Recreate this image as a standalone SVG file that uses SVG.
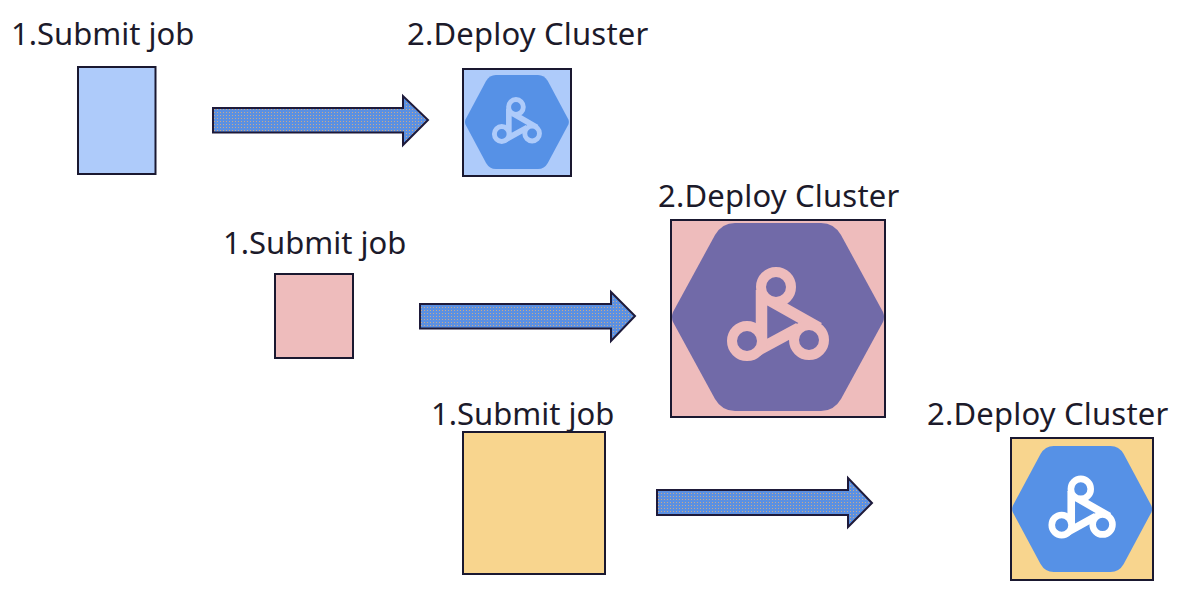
<svg xmlns="http://www.w3.org/2000/svg" width="1186" height="592" viewBox="0 0 1186 592">
<style>
.t{font-family:"Noto Sans","Open Sans",sans-serif;font-size:31px;fill:#1c1a2a}
.d{letter-spacing:.2px}
.b{stroke:#1a1830;stroke-width:2}
.blue{fill:#aecbfa}.pink{fill:#eebcbc}.yellow{fill:#f8d58e}
.a{fill:url(#dots);stroke:#1e1a3a;stroke-width:2;stroke-linejoin:miter}
.hex{fill:var(--h)}
.ic{fill:none;stroke:var(--i);stroke-width:11.500}
.ring{fill:var(--h);stroke:var(--i);stroke-width:10}
</style>
<defs>
<pattern id="dots" width="3" height="3" patternUnits="userSpaceOnUse">
<rect width="3" height="3" fill="#5b90e2"/>
<rect x="1" y="1" width="1" height="1" fill="#c9a98a"/>
</pattern>
<symbol id="hexicon" overflow="visible">
<path class="hex" d="M2 92L44 15Q51 3 64 3H150Q163 3 170 15L212 92Q214 97 212 102L170 179Q163 191 150 191H64Q51 191 44 179L2 102Q0 97 2 92Z"/>
<path class="ic" d="M90.500 70V122M98.700 80.200L148 108M80 134L128 108"/>
<circle class="ring" cx="105" cy="67" r="15"/>
<circle class="ring" cx="76" cy="121" r="15"/>
<circle class="ring" cx="138" cy="120" r="15"/>
</symbol>
</defs>
<g id="connectors">
<path id="arrow1" class="a" d="M213 108H403V96L428 120L403 145V132.500H213Z"/>
<path id="arrow2" class="a" d="M420 304H611V292L635 316L611 341V328.500H420Z"/>
<path id="arrow3" class="a" d="M657 490H848V478L872 503L848 527V515H657Z"/>
</g>
<g id="job1"><rect class="b blue" x="78" y="67" width="77.500" height="107"/><text class="t" x="11" y="45">1.Submit job</text></g>
<g id="cluster1"><rect class="b blue" x="463" y="69" width="108" height="107"/>
<use href="#hexicon" transform="translate(464.500 73.500) scale(.49 .5)" style="--h:#5691e6;--i:#aecbfa"/>
<text class="t d" x="407" y="45">2.Deploy Cluster</text></g>
<g id="job2"><rect class="b pink" x="275" y="274" width="78" height="84"/><text class="t" x="223" y="254">1.Submit job</text></g>
<g id="cluster2"><rect class="b pink" x="671" y="220" width="214" height="197"/>
<use href="#hexicon" transform="translate(671 220)" style="--h:#716aa8;--i:#eebcbc"/>
<text class="t d" x="658" y="207">2.Deploy Cluster</text></g>
<g id="job3"><rect class="b yellow" x="463" y="432" width="142" height="142"/><text class="t" x="431" y="425">1.Submit job</text></g>
<g id="cluster3"><rect class="b yellow" x="1011" y="438" width="142" height="142"/>
<use href="#hexicon" transform="translate(1011.500 444) scale(.66 .67)" style="--h:#5691e6;--i:#ffffff"/>
<text class="t d" x="927" y="425">2.Deploy Cluster</text></g>
</svg>
